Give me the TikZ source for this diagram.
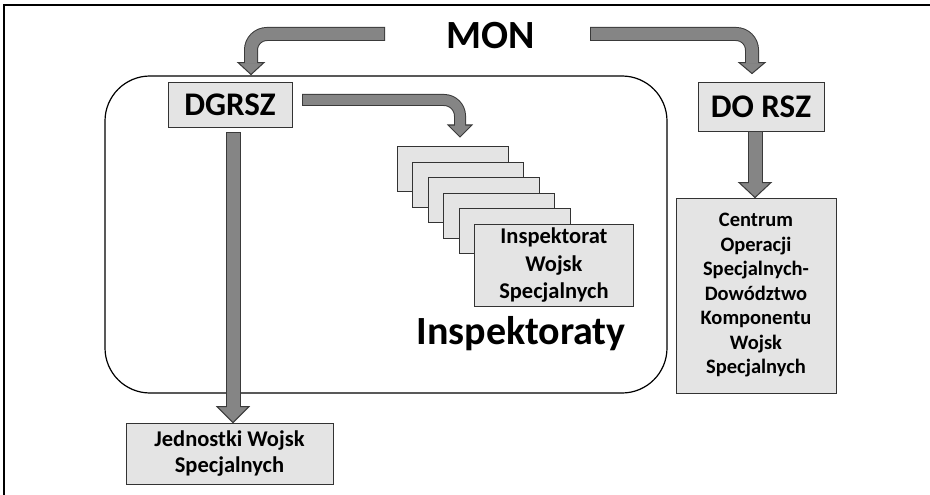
\documentclass[tikz,border=0pt]{standalone}
\usepackage{fontspec}
\setmainfont{Carlito}
\usetikzlibrary{calc}
\definecolor{boxfill}{HTML}{E4E4E4}
\definecolor{arrowgray}{HTML}{858585}
\definecolor{arrowdark}{HTML}{3A3A3A}
\newcommand\fatarrow[6]{%
 \coordinate (hb) at ($(#3)+(0,-#6)$);
 \draw[draw=arrowdark, line width=#4pt+2pt, rounded corners=16pt] (#2) #1 (hb);
 \filldraw[fill=arrowgray, draw=arrowdark, line width=1pt, line join=miter] ($(hb)+(-#5,0)$) -- ($(hb)+(#5,0)$) -- (#3) -- cycle;
 \draw[draw=arrowgray, line width=#4pt, rounded corners=16pt, shorten <=1pt, shorten >=-1pt] (#2) #1 (hb);
}
\tikzset{
 boxst/.style={draw=black!80, fill=boxfill, line width=0.9pt, inner sep=0pt, align=center},
 bigfont/.style={font=\bfseries\fontsize{#1}{#1}\selectfont},
}
\begin{document}
\begin{tikzpicture}[x=1pt,y=-1pt]
\useasboundingbox (0,0) rectangle (930,495);
\fill[white] (0,0) rectangle (930,495);
\draw[line width=1.8pt] (4,495) -- (4,5) -- (930,5);
\draw[line width=1.2pt, rounded corners=45pt] (105,76) rectangle (667,393);

\node[bigfont=40] (mon) at (491,36) {MON};
\node[boxst, minimum width=124pt, minimum height=45pt, bigfont=33] (dgrsz) at (230,104.5) {DGRSZ};
\node[boxst, minimum width=126pt, minimum height=49pt, bigfont=33] (dorsz) at (761,106.5) {DO RSZ};
\node[boxst, minimum width=207pt, minimum height=61pt, font=\bfseries\fontsize{22.5}{26}\selectfont] (jws) at (229.5,453.5) {Jednostki Wojsk\\Specjalnych};
\node[boxst, minimum width=160pt, minimum height=195pt, font=\bfseries\fontsize{20.5}{24.5}\selectfont] (cos) at (756,295.5) {Centrum\\Operacji\\Specjalnych-\\Dowództwo\\Komponentu\\Wojsk\\Specjalnych};

\foreach \k in {0,...,4}
  \node[boxst, anchor=north west, minimum width=111pt, minimum height=45pt] (ins\k) at (397+15.4*\k, 146+15.6*\k) {};
\node[boxst, anchor=north west, minimum width=159pt, minimum height=82pt, font=\bfseries\fontsize{22.5}{27.5}\selectfont] (iws) at (474,224) {Inspektorat\\Wojsk\\Specjalnych};

\node[bigfont=40] (insp) at (521,334) {Inspektoraty};

\coordinate (a1s) at (385,34);
\coordinate (a1t) at ($(dgrsz.north)+(21,-7)$);
\coordinate (a2s) at (590,34);
\coordinate (a2t) at ($(dorsz.north)+(-9,-8)$);
\coordinate (a3s) at (302,100);
\coordinate (a3t) at ($(ins0.north west)+(63,-9)$);
\coordinate (a4s) at ($(dgrsz.south)+(3,5)$);
\coordinate (a4t) at (a4s |- jws.north);
\coordinate (a5s) at ($(dorsz.south)+(-6,0)$);
\coordinate (a5t) at (a5s |- cos.north);

\fatarrow{-|}{a1s}{a1t}{12}{13}{12}
\fatarrow{-|}{a2s}{a2t}{12}{13}{11}
\fatarrow{-|}{a3s}{a3t}{10}{12}{12}
\fatarrow{--}{a4s}{a4t}{13}{16}{16}
\fatarrow{--}{a5s}{a5t}{13}{16}{15}
\end{tikzpicture}
\end{document}
